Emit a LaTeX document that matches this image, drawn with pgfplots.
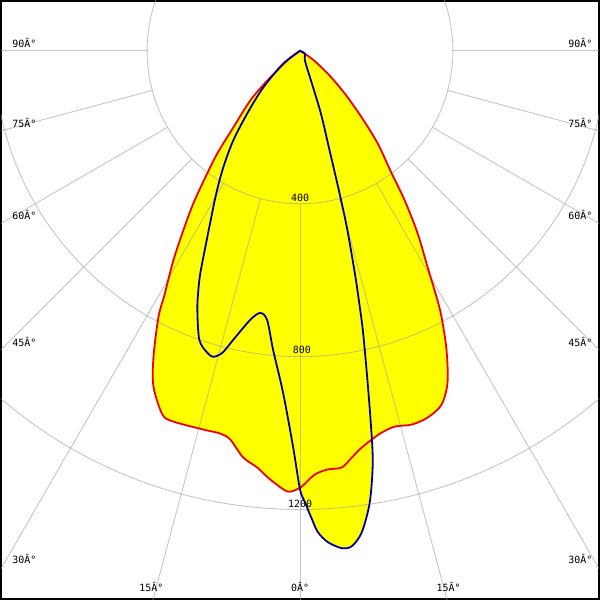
\documentclass[border=0pt]{standalone}
\usepackage{pgfplots}
\pgfplotsset{compat=1.18}
\usepackage{pgfplotstable}
\usepackage{fontspec}
\setmainfont{DejaVu Sans Mono}
\definecolor{curvered}{RGB}{240,0,0}
\definecolor{curveblue}{RGB}{0,0,170}
\definecolor{gridgray}{RGB}{160,160,160}
\definecolor{fillyellow}{RGB}{255,255,0}

% red curve (C0-C180 plane), screen-pixel units, centre of diagram at (0,0)
\pgfplotstableread{
x y
0 0
12 -8
28 -23
45 -43
62 -67
78 -93
92 -123
105 -150
118 -183
128 -217
137 -247
142 -267
147 -300
148 -333
142 -355
128 -368
112 -375
95 -377
82 -383
72 -390
62 -398
52 -408
42 -418
28 -420
15 -425
2 -437
-3 -440
-13 -442
-30 -430
-43 -418
-57 -408
-70 -390
-80 -384
-97 -380
-127 -372
-138 -365
-147 -337
-147 -307
-142 -267
-136 -245
-127 -210
-117 -180
-107 -153
-95 -127
-83 -103
-67 -77
-50 -50
-33 -30
-13 -10
0 0
}\redcurve

% blue curve (C90-C270 plane)
\pgfplotstableread{
x y
0 0
5 -3
5 -10
12 -33
21 -63
29 -97
39 -140
47 -177
55 -223
59 -250
63 -280
67 -323
71 -373
73 -413
70 -453
62 -483
52 -497
42 -499
28 -493
18 -483
12 -470
5 -453
0 -440
-7 -397
-17 -343
-27 -300
-33 -270
-40 -263
-50 -270
-67 -290
-78 -303
-87 -307
-93 -303
-101 -290
-103 -260
-102 -240
-100 -223
-95 -197
-89 -167
-84 -143
-77 -117
-67 -90
-53 -63
-37 -37
-17 -13
0 0
}\bluecurve

\begin{document}
\begin{tikzpicture}
\begin{axis}[
  width=600pt, height=600pt, scale only axis,
  xmin=-300, xmax=300, ymin=-550, ymax=50,
  xtick=\empty, ytick=\empty,
  axis line style={line width=2pt, black},
  clip=true,
  font=\fontsize{10}{12}\selectfont,
]
\addplot[fill=fillyellow, draw=none, smooth, tension=0.5] table {\redcurve} -- cycle;
\addplot[fill=fillyellow, draw=none, smooth, tension=0.5] table {\bluecurve} -- cycle;

% grid
\pgfplotsinvokeforeach{153.4,306.8,460.2}{
  \draw[gridgray, opacity=0.6, line width=0.9pt] (axis cs:0,0) circle[radius=#1];
}
\pgfplotsinvokeforeach{-90,-75,-60,-45,-30,-15,0,15,30,45,60,75,90}{
  \draw[gridgray, opacity=0.6, line width=0.9pt]
    (axis cs:{153.4*sin(#1)},{-153.4*cos(#1)}) -- (axis cs:{900*sin(#1)},{-900*cos(#1)});
}

\addplot[curvered, line width=1.8pt, smooth, tension=0.5] table {\redcurve} -- cycle;
\addplot[curveblue, line width=1.8pt, smooth, tension=0.5] table {\bluecurve} -- cycle;

% angle labels
\node[anchor=west] at (axis cs:-292,8) {90Â°};
\node[anchor=west] at (axis cs:-292,-72) {75Â°};
\node[anchor=west] at (axis cs:-292,-165) {60Â°};
\node[anchor=west] at (axis cs:-292,-292) {45Â°};
\node[anchor=west] at (axis cs:-292,-510) {30Â°};
\node[anchor=east] at (axis cs:297,8) {90Â°};
\node[anchor=east] at (axis cs:297,-72) {75Â°};
\node[anchor=east] at (axis cs:297,-165) {60Â°};
\node[anchor=east] at (axis cs:297,-292) {45Â°};
\node[anchor=east] at (axis cs:297,-510) {30Â°};
\node at (axis cs:-149,-538) {15Â°};
\node at (axis cs:0,-538) {0Â°};
\node at (axis cs:149,-538) {15Â°};

% intensity labels
\node at (axis cs:0,-148) {400};
\node at (axis cs:2,-300) {800};
\node at (axis cs:0,-455) {1200};
\end{axis}
\end{tikzpicture}
\end{document}
